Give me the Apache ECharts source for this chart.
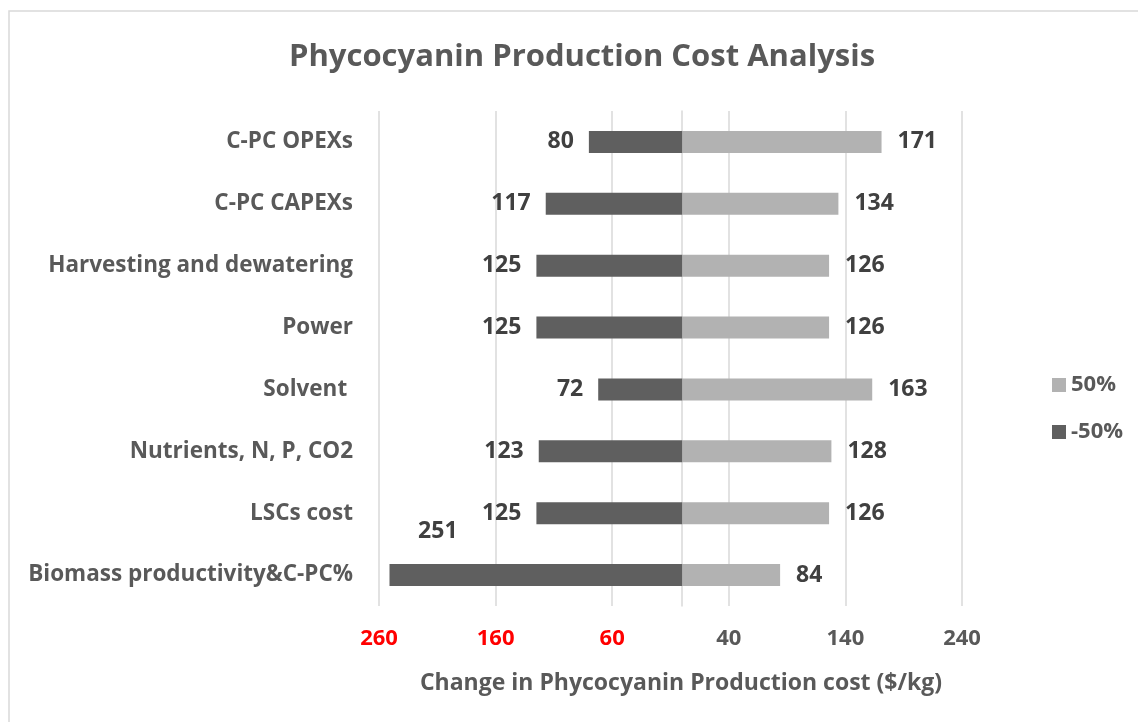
<!DOCTYPE html>
<html>
<head>
<meta charset="utf-8">
<script src="https://cdn.jsdelivr.net/npm/echarts@6/dist/echarts.min.js"></script>
<style>
  html, body { margin: 0; padding: 0; background: #fff; }
  #chart { width: 1138px; height: 722px; }
</style>
</head>
<body>
<div id="chart"></div>
<script>
// categories, top to bottom
var categories = [
    'C-PC OPEXs',
    'C-PC CAPEXs',
    'Harvesting and dewatering',
    'Power',
    'Solvent ',
    'Nutrients, N, P, CO2',
    'LSCs cost',
    'Biomass productivity&C-PC%'
];
var plus50 = [171, 134, 126, 126, 163, 128, 126, 84];      // 50%
var minus50 = [-80, -117, -125, -125, -72, -123, -125, -251]; // -50%

var fontFamily = '"Open Sans", "Noto Sans", sans-serif';
var chart = echarts.init(document.getElementById('chart'));

// -50% 数据，最后一个标签位置特殊处理（在柱子左上方）
var minusData = minus50.map(function (v, i) {
    if (v === -251) {
        return {value: v, label: {position: 'top', offset: [-98, -6]}};
    }
    return v;
});

var option = {
    backgroundColor: '#fff',
    textStyle: {fontFamily: fontFamily},
    title: {
        text: 'Phycocyanin Production Cost Analysis',
        left: 284,
        top: 37,
        textStyle: {fontSize: 31, fontWeight: 'bold', color: '#595959', fontFamily: fontFamily}
    },
    graphic: [{
        type: 'rect',
        shape: {x: 9, y: 11, width: 1140, height: 720},
        style: {fill: 'none', stroke: '#d9d9d9', lineWidth: 1.5}
    }],
    legend: {
        orient: 'vertical',
        left: 1047,
        top: 369,
        icon: 'rect',
        itemWidth: 14,
        itemHeight: 14,
        itemGap: 25,
        data: ['50%', '-50%'],
        textStyle: {fontSize: 22, fontWeight: 'bold', color: '#595959', fontFamily: fontFamily}
    },
    grid: {left: 379, right: 176, top: 111, bottom: 116, containLabel: false},
    xAxis: {
        type: 'value',
        min: -260,
        max: 240,
        interval: 100,
        name: 'Change in Phycocyanin Production cost ($/kg)',
        nameLocation: 'middle',
        nameGap: 66,
        nameTextStyle: {fontSize: 23, fontWeight: 'bold', color: '#595959', fontFamily: fontFamily, padding: [0, 0, 0, 21]},
        axisLine: {show: false},
        axisTick: {show: false},
        splitLine: {lineStyle: {color: '#d9d9d9', width: 1.5}},
        axisLabel: {
            margin: 22,
            fontSize: 22,
            fontWeight: 'bold',
            fontFamily: fontFamily,
            formatter: function (v) { return Math.abs(v); },
            color: function (v) { return v < 0 ? '#ff0000' : '#595959'; }
        }
    },
    yAxis: {
        type: 'category',
        inverse: true,
        data: categories,
        axisLine: {onZero: true, lineStyle: {color: '#d9d9d9', width: 1.5}},
        axisTick: {show: false},
        axisLabel: {
            margin: 26,
            fontSize: 22.5,
            fontWeight: 'bold',
            color: '#595959',
            fontFamily: fontFamily
        }
    },
    series: [
        {
            name: '50%',
            type: 'bar',
            barWidth: 22,
            barGap: '-100%',
            data: plus50,
            itemStyle: {color: '#b2b2b2'},
            label: {
                show: true,
                position: 'right',
                distance: 16,
                fontSize: 23,
                fontWeight: 'bold',
                color: '#404040',
                fontFamily: fontFamily
            }
        },
        {
            name: '-50%',
            type: 'bar',
            barWidth: 22,
            barGap: '-100%',
            data: minusData,
            itemStyle: {color: '#5f5f5f'},
            label: {
                show: true,
                position: 'left',
                distance: 15,
                fontSize: 23,
                fontWeight: 'bold',
                color: '#404040',
                fontFamily: fontFamily,
                formatter: function (p) { return Math.abs(p.value); }
            }
        }
    ]
};

chart.setOption(option);
</script>
</body>
</html>
